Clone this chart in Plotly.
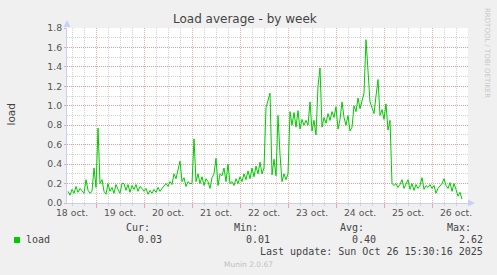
import pandas as pd
import plotly.graph_objects as go

# ---------------- data (hourly load average) ----------------
series_start = "2025-10-18 10:00"
load_oct18 = [0.12, 0.08, 0.14, 0.10, 0.17, 0.11, 0.15, 0.12, 0.10, 0.24, 0.13, 0.10, 0.12, 0.36]
load_oct19 = [0.16, 0.77, 0.20, 0.24, 0.12, 0.09, 0.20, 0.12, 0.16, 0.10, 0.19, 0.14,
              0.10, 0.20, 0.20, 0.13, 0.19, 0.11, 0.18, 0.14, 0.19, 0.12, 0.17, 0.15]
load_oct20 = [0.12, 0.15, 0.09, 0.13, 0.10, 0.14, 0.11, 0.16, 0.12, 0.15, 0.17, 0.20,
              0.17, 0.22, 0.19, 0.30, 0.25, 0.34, 0.43, 0.22, 0.26, 0.17, 0.22, 0.20]
load_oct21 = [0.20, 0.66, 0.22, 0.30, 0.20, 0.27, 0.18, 0.25, 0.22, 0.15, 0.26, 0.30,
              0.46, 0.18, 0.30, 0.28, 0.36, 0.22, 0.40, 0.20, 0.22, 0.18, 0.25, 0.20]
load_oct22 = [0.27, 0.22, 0.30, 0.24, 0.33, 0.25, 0.36, 0.27, 0.38, 0.30, 0.42, 0.30,
              0.36, 0.98, 1.06, 1.13, 0.29, 0.45, 0.28, 0.90, 0.50, 0.22, 0.30, 0.24]
load_oct23 = [0.30, 0.94, 0.80, 0.93, 0.78, 0.95, 0.76, 0.86, 0.80, 0.85, 0.80, 1.04,
              0.74, 0.85, 0.70, 1.20, 1.39, 0.78, 0.88, 0.82, 0.92, 0.85, 0.94, 0.88]
load_oct24 = [0.99, 0.76, 0.86, 1.04, 0.88, 0.80, 0.90, 0.74, 0.78, 1.00, 0.94, 1.08,
              0.97, 1.05, 1.13, 1.68, 1.32, 1.04, 0.98, 0.92, 1.10, 1.27, 0.90, 0.96]
load_oct25 = [0.86, 1.02, 0.75, 0.85, 0.20, 0.18, 0.20, 0.16, 0.19, 0.24, 0.15, 0.20,
              0.24, 0.14, 0.20, 0.13, 0.19, 0.15, 0.18, 0.26, 0.14, 0.18, 0.16, 0.19]
load_oct26 = [0.15, 0.18, 0.10, 0.15, 0.17, 0.20, 0.25, 0.18, 0.15, 0.21, 0.12, 0.20,
              0.14, 0.07, 0.11, 0.04]

load = (load_oct18 + load_oct19 + load_oct20 + load_oct21 + load_oct22 +
        load_oct23 + load_oct24 + load_oct25 + load_oct26)
times = pd.date_range(series_start, periods=len(load), freq="h")

day_labels = ["18 oct.", "19 oct.", "20 oct.", "21 oct.", "22 oct.",
              "23 oct.", "24 oct.", "25 oct.", "26 oct."]
day_label_pos = ["2025-10-%02d 12:00" % d for d in range(18, 27)]
y_ticks = [0.0, 0.2, 0.4, 0.6, 0.8, 1.0, 1.2, 1.4, 1.6, 1.8]

x_range = ["2025-10-18 09:30", "2025-10-26 18:00"]
y_range = [0, 1.8]

stat_names = ["Cur:", "Min:", "Avg:", "Max:"]
stat_values = ["0.03", "0.01", "0.40", "2.62"]
series_name = "load"
last_update = "Last update: Sun Oct 26 15:30:16 2025"

# ---------------- style ----------------
W, H = 497, 275
L, R, T, B = 67, 468, 28, 203
BG = "#f0f0f0"
RED = "rgba(230,120,120,0.6)"
GRAY = "#d2d2d2"
AXIS = "#c8d0f8"
GREEN = "#00cc00"
TXT = "#444444"
SANS = "DejaVu Sans"
MONO = "DejaVu Sans Mono"


def px(x):
    return (x - L) / (R - L)


def py(y):
    return (B - y) / (B - T)


def note(text, x, y, font, xanchor="center", angle=0):
    return dict(text=text, x=px(x), y=py(y), xref="paper", yref="paper",
                showarrow=False, font=font, xanchor=xanchor, yanchor="middle",
                textangle=angle, borderpad=0)


fig = go.Figure()
fig.add_trace(go.Scatter(x=times, y=load, mode="lines", name=series_name,
                         line=dict(color=GREEN, width=1), hoverinfo="skip",
                         showlegend=False))
# helper trace so the label axis exists
fig.add_trace(go.Scatter(x=[day_label_pos[0]], y=[None], xaxis="x2", yaxis="y",
                         showlegend=False, hoverinfo="skip"))

mono = dict(family=MONO, size=10, color=TXT)
annotations = [
    note("Load average - by week", 245, 19, dict(family=SANS, size=12, color=TXT)),
    note("load", 10.5, 115, dict(family=SANS, size=10.5, color=TXT), angle=-90),
    note("RRDTOOL / TOBI OETIKER", 487, 53, dict(family=SANS, size=7, color="#c8c8c8"), angle=90),
    note(series_name, 25, 239.5, mono, xanchor="left"),
    note(last_update, 484, 251.7, mono, xanchor="right"),
    note("Munin 2.0.67", 248, 264, dict(family=SANS, size=7.5, color="#c0c0c0")),
]
value_right = [163, 271, 377, 484]
for name, val, xr in zip(stat_names, stat_values, value_right):
    annotations.append(note(name, xr - 12.5, 227.5, mono, xanchor="right"))
    annotations.append(note(val, xr, 239.5, mono, xanchor="right"))

shapes = [
    # legend swatch
    dict(type="rect", xref="paper", yref="paper", x0=px(14), x1=px(20), y0=py(243), y1=py(237),
         fillcolor=GREEN, line=dict(width=0)),
    # y axis arrow
    dict(type="path", xref="paper", yref="paper",
         path="M %f %f L %f %f L %f %f Z" % (px(63.5), py(27), px(70.5), py(27), px(67), py(20)),
         fillcolor=AXIS, line=dict(width=0)),
    # x axis arrow
    dict(type="path", xref="paper", yref="paper",
         path="M %f %f L %f %f L %f %f Z" % (px(468), py(199.5), px(468), py(206.5), px(475), py(203)),
         fillcolor=AXIS, line=dict(width=0)),
]

fig.update_layout(
    width=W, height=H,
    margin=dict(l=L, r=W - R, t=T, b=H - B, pad=0),
    paper_bgcolor=BG, plot_bgcolor="white",
    showlegend=False,
    font=dict(family=SANS, size=9.3, color="#555555"),
    xaxis=dict(type="date", range=x_range, tick0="2025-10-18", dtick=86400000,
               showticklabels=False, showgrid=True, gridcolor=RED, griddash="1px,1px",
               gridwidth=1, ticks="outside", ticklen=4, tickcolor=RED, tickwidth=1,
               showline=True, linecolor=AXIS, linewidth=1, zeroline=False, fixedrange=True,
               minor=dict(dtick=6 * 3600000, showgrid=True, gridcolor=GRAY,
                          griddash="1px,1px", ticks="outside", ticklen=2, tickcolor=GRAY)),
    xaxis2=dict(type="date", range=x_range, overlaying="x", anchor="y", side="bottom",
                tickmode="array", tickvals=day_label_pos, ticktext=day_labels,
                showgrid=False, ticks="", showline=False, zeroline=False, fixedrange=True,
                ticklabelstandoff=3,
                tickfont=dict(family=SANS, size=9.3, color="#555555")),
    yaxis=dict(range=y_range, tickmode="array", tickvals=y_ticks, tickformat=".1f",
               showgrid=True, gridcolor=RED, griddash="1px,1px", gridwidth=1,
               ticks="outside", ticklen=2, tickcolor=RED, showline=True, linecolor=AXIS,
               linewidth=1, zeroline=False, fixedrange=True,
               tickfont=dict(family=SANS, size=9.3, color="#555555"),
               minor=dict(dtick=0.1, showgrid=True, gridcolor=GRAY, griddash="1px,1px")),
    annotations=annotations,
    shapes=shapes,
)

fig.write_html("out.html", config={"displayModeBar": False, "staticPlot": True})
